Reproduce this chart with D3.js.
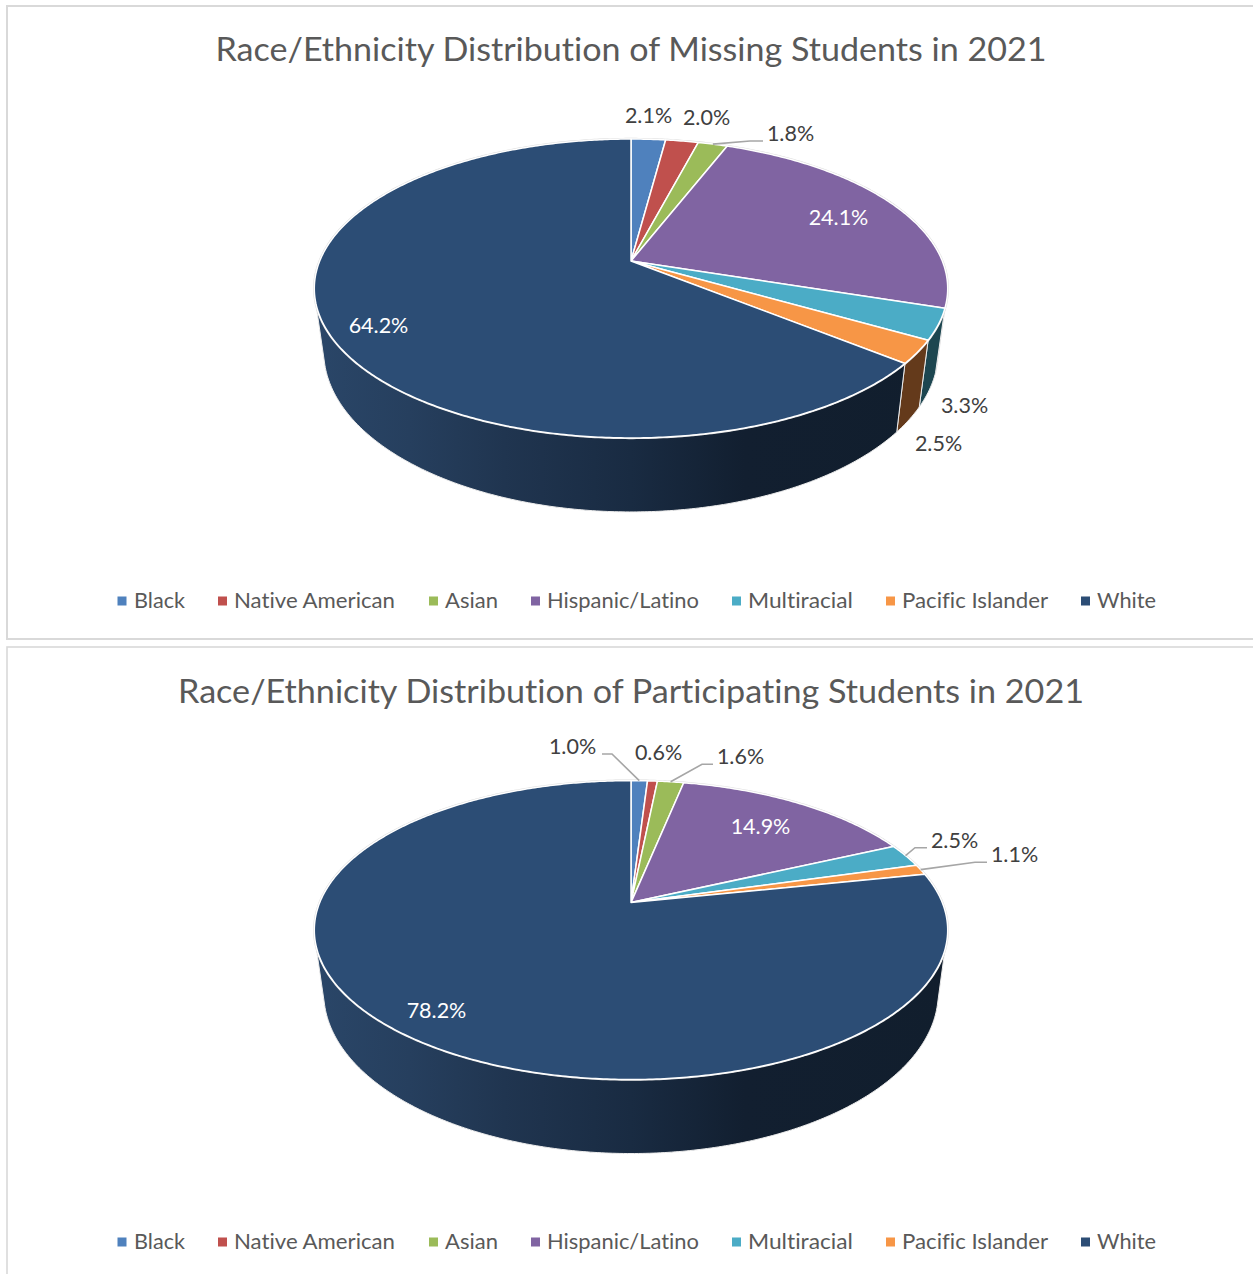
<!DOCTYPE html>
<html>
<head>
<meta charset="utf-8">
<script src="https://cdnjs.cloudflare.com/ajax/libs/d3/7.8.5/d3.min.js"></script>
<style>
html,body{margin:0;padding:0;background:#fff;overflow:hidden}
svg{display:block}
text{font-family:Lato,"Open Sans",sans-serif;font-variant-ligatures:none}
</style>
</head>
<body>
<svg id="c" width="1253" height="1274"></svg>
<script>
// ---------- data ----------
const categories = ["Black","Native American","Asian","Hispanic/Latino","Multiracial","Pacific Islander","White"];
const missingValues = [2.1,2.0,1.8,24.1,3.3,2.5,64.2];
const participatingValues = [1.0,0.6,1.6,14.9,2.5,1.1,78.2];
const missingTitle = "Race/Ethnicity Distribution of Missing Students in 2021";
const participatingTitle = "Race/Ethnicity Distribution of Participating Students in 2021";

// ---------- style ----------
const sliceColors = ["#4f81bd","#c0504d","#9bbb59","#8064a2","#4bacc6","#f79646","#2c4d75"];
const wallColors = ["#2f4d71","#733230","#5d7035","#4d3c61","#1d4650","#643a1b","url(#whiteWall)"];

// ---------- layout ----------
const legendMarkerX = [117.5,218,429,531,732,886,1081];
const legendTextX = [134,234,445,547,748,902,1097];
const legendTextW = [51,161,53,152,105,146,59];

const charts = [
  { values: missingValues, title: missingTitle, dy: 0, titleW: 831, titleY: 48.5, legendY: 600,
    labels: [
      {x:648.5,y:115},{x:706.5,y:117},
      {x:790.5,y:133,leader:[763,141,750]},
      {x:838.5,y:217,white:true},
      {x:964.5,y:405},{x:938.5,y:443},
      {x:378.5,y:325,white:true}
    ]},
  { values: participatingValues, title: participatingTitle, dy: 641.6, titleW: 906, titleY: 690.5, legendY: 1241,
    labels: [
      {x:572.5,y:746,leader:[602,754,612]},
      {x:658.5,y:752},
      {x:740.5,y:756,leader:[713,764.3,702]},
      {x:760.5,y:826,white:true},
      {x:954.5,y:840,leader:[927,847.7,915]},
      {x:1014.5,y:854,leader:[987,862.3,975]},
      {x:436.5,y:1010,white:true}
    ]}
];

// perspective model of the disc: u = sin(a), v = cos(a)
const persp = 0.1839;
const cx = 631, topY = 261;
const topPlane = {R:311.3, S:144.4, y0:topY};
const botPlane = {R:302, S:155, y0:322};
const wallStart = Math.PI*108/180, wallEnd = Math.PI*254/180;
const startShift = Math.PI*3/180, endShift = Math.PI*1/180;

function project(a, plane, dy){
  const u = Math.sin(a), v = Math.cos(a), w = 1 + persp*v;
  return [cx + plane.R*u/w, plane.y0 + dy - plane.S*v/w];
}
function samples(a0, a1){
  const n = Math.max(2, Math.ceil((a1-a0)/0.01));
  return d3.range(n+1).map(i => a0 + (a1-a0)*i/n);
}

const svg = d3.select("#c");
const defs = svg.append("defs");
const grad = defs.append("linearGradient").attr("id","whiteWall")
  .attr("gradientUnits","userSpaceOnUse").attr("x1",315).attr("x2",947).attr("y1",0).attr("y2",0);
[[0,"#2a4668"],[0.15,"#263f5e"],[0.3,"#203550"],[0.5,"#192b42"],[0.68,"#121f30"],[1,"#111e2d"]]
  .forEach(s => grad.append("stop").attr("offset",s[0]).attr("stop-color",s[1]));

// panels
svg.append("rect").attr("x",7).attr("y",6).attr("width",1270).attr("height",633)
  .attr("fill","#fff").attr("stroke","#d9d9d9").attr("stroke-width",2);
svg.append("rect").attr("x",7).attr("y",647).attr("width",1270).attr("height",700)
  .attr("fill","#fff").attr("stroke","#d9d9d9").attr("stroke-width",1.6);

const line = d3.line();
const pie = d3.pie().sort(null).startAngle(0).endAngle(2*Math.PI);

charts.forEach(ch => {
  const g = svg.append("g");
  const arcs = pie(ch.values);

  g.append("text").attr("x",631).attr("y",ch.titleY).attr("text-anchor","middle")
    .attr("dominant-baseline","central").attr("font-size",32.5).attr("fill","#595959")
    .attr("textLength",ch.titleW).attr("lengthAdjust","spacingAndGlyphs").text(ch.title);

  // side walls
  arcs.forEach((d,i) => {
    const a0 = Math.max(d.startAngle, wallStart), a1 = Math.min(d.endAngle, wallEnd);
    if (a0 >= a1) return;
    const b0 = a0 === wallStart ? a0 - startShift : a0;
    const b1 = a1 === wallEnd ? a1 + endShift : a1;
    const pts = samples(a0,a1).map(a => project(a,topPlane,ch.dy))
      .concat(samples(b0,b1).reverse().map(a => project(a,botPlane,ch.dy)));
    g.append("path").attr("d",line(pts)+"Z").attr("fill",wallColors[i])
      .attr("stroke","#ececec").attr("stroke-width",1).attr("stroke-linejoin","round");
  });

  // soft rim under the top face
  const rim = samples(0,2*Math.PI).map(a => project(a,topPlane,ch.dy));
  g.append("path").attr("d",line(rim)+"Z").attr("fill","none").attr("stroke","#dcdcdc").attr("stroke-width",2.4);

  // top slices
  arcs.forEach((d,i) => {
    const pts = [[cx,topPlane.y0+ch.dy]].concat(samples(d.startAngle,d.endAngle).map(a => project(a,topPlane,ch.dy)));
    g.append("path").attr("d",line(pts)+"Z").attr("fill",sliceColors[i])
      .attr("stroke","#fff").attr("stroke-width",1.5).attr("stroke-linejoin","round");
  });

  // leader lines and labels
  arcs.forEach((d,i) => {
    const lab = ch.labels[i];
    if (lab.leader) {
      const end = project((d.startAngle+d.endAngle)/2, topPlane, ch.dy);
      const [sx,sy,ex] = lab.leader;
      g.append("path").attr("d",line([[sx,sy],[ex,sy],end])).attr("fill","none")
        .attr("stroke","#a6a6a6").attr("stroke-width",1.6);
    }
    g.append("text").attr("x",lab.x).attr("y",lab.y).attr("text-anchor","middle")
      .attr("dominant-baseline","central").attr("font-size",21.5)
      .attr("fill",lab.white ? "#ffffff" : "#404040").text(d3.format(".1f")(d.value)+"%");
  });

  // legend
  categories.forEach((c,i) => {
    g.append("rect").attr("x",legendMarkerX[i]).attr("y",ch.legendY-3.5).attr("width",9).attr("height",9)
      .attr("fill",sliceColors[i]);
    g.append("text").attr("x",legendTextX[i]).attr("y",ch.legendY).attr("dominant-baseline","central")
      .attr("font-size",21.5).attr("fill","#595959").attr("textLength",legendTextW[i])
      .attr("lengthAdjust","spacingAndGlyphs").text(c);
  });
});
</script>
</body>
</html>
